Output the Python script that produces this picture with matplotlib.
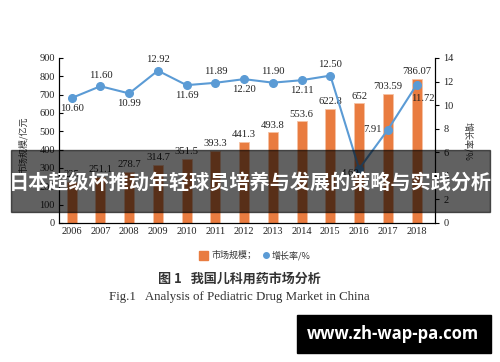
import matplotlib.pyplot as plt
from matplotlib.patches import Rectangle

# data
years = ['2006', '2007', '2008', '2009', '2010', '2011', '2012',
         '2013', '2014', '2015', '2016', '2017', '2018']
market = [225, 251.1, 278.7, 314.7, 351.5, 393.3, 441.3,
          493.8, 553.6, 622.8, 652, 703.59, 786.07]
market_txt = ['225', '251.1', '278.7', '314.7', '351.5', '393.3', '441.3',
              '493.8', '553.6', '622.8', '652', '703.59', '786.07']
growth = [10.60, 11.60, 10.99, 12.92, 11.69, 11.89, 12.20,
          11.90, 12.11, 12.50, 4.60, 7.91, 11.72]
growth_txt = ['10.60', '11.60', '10.99', '12.92', '11.69', '11.89', '12.20',
              '11.90', '12.11', '12.50', '4.60', '7.91', '11.72']

SERIF = 'Liberation Serif'
CJK = ['Noto Sans CJK SC', 'DejaVu Sans']
ORANGE = '#E97C40'
BLUE = '#5B9BD5'

fig = plt.figure(figsize=(5, 3.62), dpi=100)
ax = fig.add_axes([0.118, 0.384, 0.752, 0.456])
ax2 = ax.twinx()

x = list(range(len(years)))
ax.bar(x, market, width=0.35, color=ORANGE, edgecolor='#F6C2A4', linewidth=0.6, zorder=2)
for i, v in enumerate(market):
    ax.annotate(market_txt[i], (i, v), xytext=(0, 2), textcoords='offset points',
                ha='center', va='bottom', fontsize=7.7, family=SERIF, color='#222222')

ax2.plot(x, growth, color=BLUE, lw=1.5, marker='o', ms=5.5, zorder=3)
# label offsets (points) for the growth values
offs = [(0, -7.5), (0, 8), (0, -7.5), (0, 8), (0, -7.5), (0, 8), (0, -7.5),
        (0, 8), (0, -7.5), (0, 8), (-6.5, -3.6), (-11, 0), (4.5, -10)]
for i, v in enumerate(growth):
    ax2.annotate(growth_txt[i], (i, v), xytext=offs[i], textcoords='offset points',
                 ha='center', va='center', fontsize=7.7, family=SERIF, color='#222222')

ax.set_xlim(-0.44, 12.64)
ax.set_ylim(0, 900)
ax.set_yticks(range(0, 901, 100))
ax2.set_ylim(0, 14)
ax2.set_yticks(range(0, 15, 2))
ax.set_xticks(x)
ax.set_xticklabels(years)

for a in (ax, ax2):
    a.spines['top'].set_visible(False)
    for lab in a.get_xticklabels() + a.get_yticklabels():
        lab.set_family(SERIF)
        lab.set_fontsize(7.5)
        lab.set_color('#222222')
ax.tick_params(axis='y', direction='in', length=3, width=0.8, pad=3)
ax.tick_params(axis='x', length=0, pad=3)
ax2.tick_params(axis='y', direction='out', length=3, width=0.8, pad=3)

fig.text(0.046, 0.60, '市场规模/亿元', rotation=90, ha='center', va='center',
         fontsize=6.5, family=CJK, color='#333333')
fig.text(0.936, 0.61, '增长率/%', rotation=-90, ha='center', va='center',
         fontsize=6.5, family=CJK, color='#333333')

# legend
fig.add_artist(Rectangle((0.398, 0.282), 0.018, 0.025, color=ORANGE, transform=fig.transFigure))
fig.text(0.422, 0.295, '市场规模；', ha='left', va='center', fontsize=6.5, family=CJK, color='#333333')
fig.add_artist(plt.Line2D([0.531], [0.295], marker='o', ms=4, color=BLUE, transform=fig.transFigure))
fig.text(0.543, 0.295, '增长率/%', ha='left', va='center', fontsize=6.5, family=CJK, color='#333333')

# captions
fig.text(0.478, 0.229, '图 1   我国儿科用药市场分析', ha='center', va='center',
         fontsize=9.4, family=CJK, weight='bold', color='#333333')
fig.text(0.478, 0.179, 'Fig.1   Analysis of Pediatric Drug Market in China', ha='center',
         va='center', fontsize=9.3, family=SERIF, color='#333333')

# dark banner with title
fig.add_artist(Rectangle((0.022, 0.414), 0.958, 0.172, color='black', alpha=0.62,
                         transform=fig.transFigure, zorder=10))
fig.text(0.5, 0.494, '日本超级杯推动年轻球员培养与发展的策略与实践分析', ha='center', va='center',
         fontsize=14.5, family=CJK, weight='bold', color='white', zorder=11)

# watermark
fig.add_artist(Rectangle((0.594, 0.025), 0.388, 0.105, color='black',
                         transform=fig.transFigure, zorder=10))
fig.text(0.786, 0.077, 'www.zh-wap-pa.com', ha='center', va='center', fontsize=12,
         family='Open Sans', weight='bold', color='white', zorder=11)

fig.savefig('out.png', dpi=100)
